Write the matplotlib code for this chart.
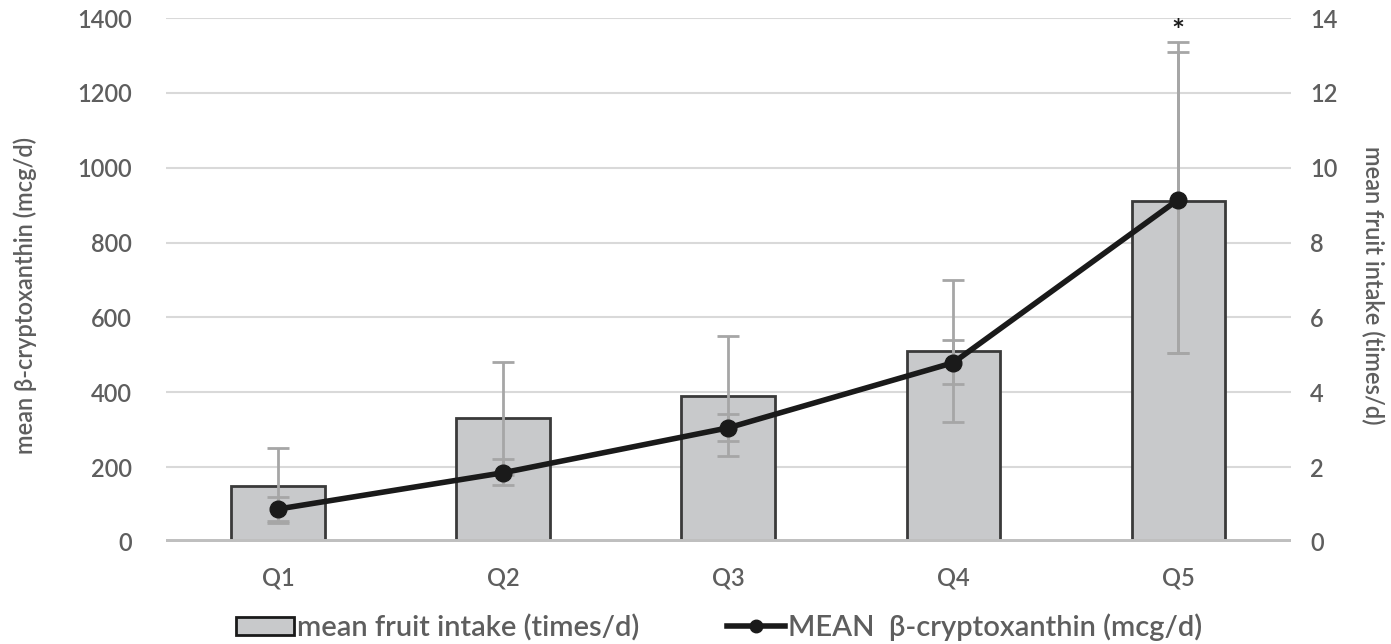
import matplotlib
matplotlib.use("Agg")
import matplotlib.pyplot as plt
from matplotlib.patches import Patch
from matplotlib.lines import Line2D
import numpy as np

categories = ["Q1", "Q2", "Q3", "Q4", "Q5"]
# mean fruit intake (times/d) - bars, right axis
fruit_mean = [1.5, 3.3, 3.9, 5.1, 9.1]
fruit_err_lo = [1.0, 1.5, 1.6, 1.9, 4.05]
fruit_err_hi = [1.0, 1.5, 1.6, 1.9, 4.25]
# mean beta-cryptoxanthin (mcg/d) - line, left axis
bcx_mean = [88, 185, 305, 479, 915]
bcx_err_lo = [33, 33, 36, 56, 410]
bcx_err_hi = [32, 37, 36, 61, 395]
left_ticks = [0, 200, 400, 600, 800, 1000, 1200, 1400]
right_ticks = [0, 2, 4, 6, 8, 10, 12, 14]

plt.rcParams['font.family'] = ['Lato', 'DejaVu Sans']
tick_color = '#5E5E5E'
err_color = '#A6A6A6'
wt = 'semibold'

fig = plt.figure(figsize=(13.91, 6.44), dpi=100)
ax = fig.add_axes([0.119, 0.1584, 0.809, 0.8136])
ax2 = ax.twinx()
ax.set_zorder(ax2.get_zorder() + 1)
ax.patch.set_visible(False)

x = np.arange(len(categories))

# bars on right axis
ax2.bar(x, fruit_mean, width=0.415, color='#C8C9CB', edgecolor='#3A3A3A',
        linewidth=2, zorder=3)
ax2.errorbar(x, fruit_mean, yerr=[fruit_err_lo, fruit_err_hi], fmt='none',
             ecolor=err_color, elinewidth=2, capsize=8, capthick=2, zorder=4)
ax2.set_ylim(0, 14)
ax2.set_yticks(right_ticks)
ax2.grid(axis='y', color='#D9D9D9', linewidth=1.5, zorder=0)
ax2.set_axisbelow(True)
ax2.axhline(0, color='#BFBFBF', linewidth=5, zorder=5)

# line on left axis
ax.errorbar(x, bcx_mean, yerr=[bcx_err_lo, bcx_err_hi], fmt='none',
            ecolor=err_color, elinewidth=2, capsize=8, capthick=2, zorder=2)
ax.plot(x, bcx_mean, color='#1A1A1A', linewidth=4, marker='o', markersize=12,
        zorder=3)
ax.set_ylim(0, 1400)
ax.set_yticks(left_ticks)
ax.set_xlim(-0.5, 4.5)
ax.set_xticks(x)
ax.set_xticklabels(categories)

ax.text(x[4], 1362, "*", ha='center', va='center', fontsize=22,
        color='#1A1A1A', fontweight='bold')

for a in (ax, ax2):
    for s in a.spines.values():
        s.set_visible(False)
    a.tick_params(axis='both', length=0, colors=tick_color, labelsize=17)
    for lab in a.get_xticklabels() + a.get_yticklabels():
        lab.set_fontweight(wt)
ax.tick_params(axis='y', pad=24)
ax2.tick_params(axis='y', pad=14)
ax.tick_params(axis='x', pad=18)

ax.set_ylabel("mean β-cryptoxanthin (mcg/d)", color=tick_color, fontsize=17,
              fontweight=wt)
ax.yaxis.set_label_coords(-0.114, 0.47)
ax2.set_ylabel("mean fruit intake (times/d)", color=tick_color, fontsize=17,
               rotation=270, fontweight=wt, va='center')
ax2.yaxis.set_label_coords(1.073, 0.49)

handles = [Patch(facecolor='#C8C9CB', edgecolor='#1A1A1A', linewidth=2),
           Line2D([0], [0], color='#1A1A1A', linewidth=4, marker='o',
                  markersize=9)]
labels = ["mean fruit intake (times/d)", "MEAN  β-cryptoxanthin (mcg/d)"]
leg = fig.legend(handles, labels, loc='center', bbox_to_anchor=(0.517, 0.026),
                 ncol=2, frameon=False, fontsize=21, handlelength=2.0,
                 handleheight=0.6, handletextpad=0.1, columnspacing=3.0,
                 labelcolor=tick_color)
for t in leg.get_texts():
    t.set_fontweight(wt)

fig.savefig("out.png", dpi=100)
